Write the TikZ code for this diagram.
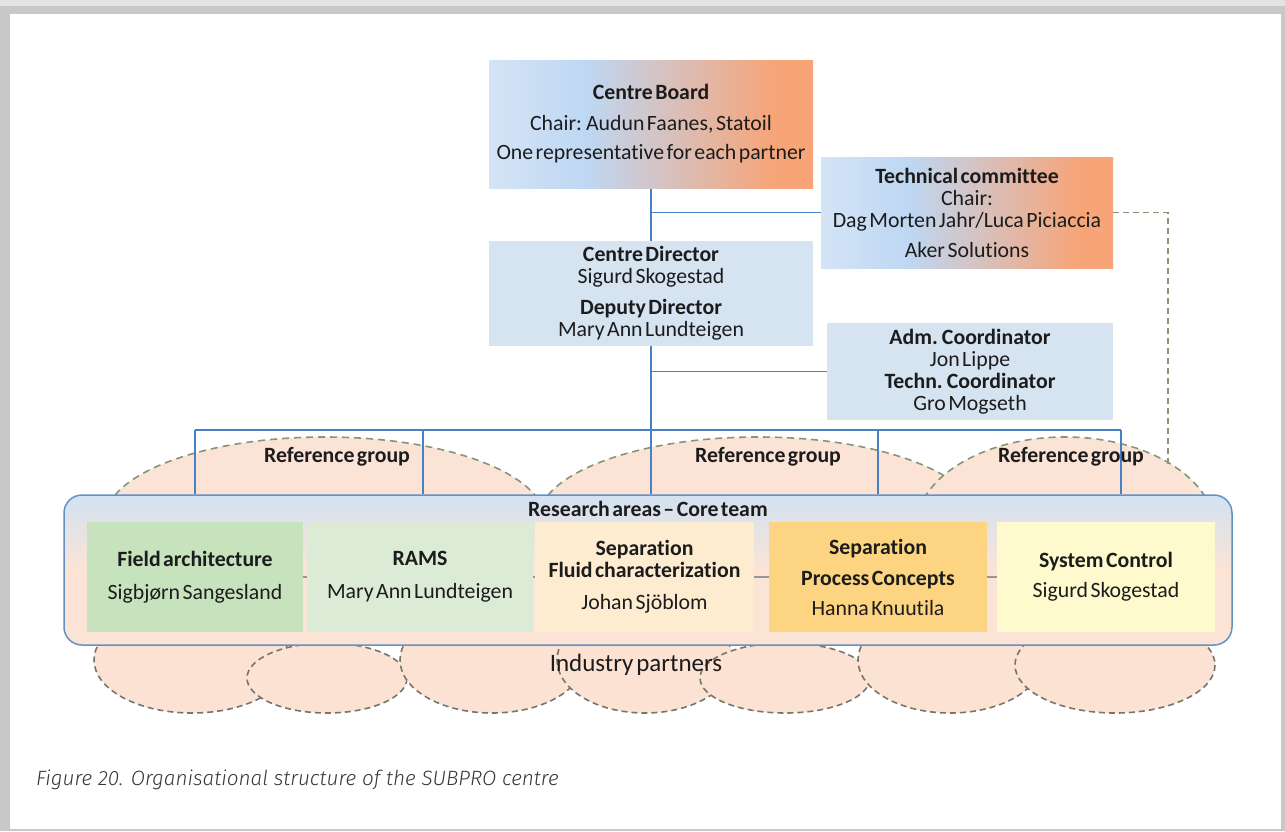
\documentclass[tikz,border=0pt]{standalone}
\usepackage{fontspec}
\setmainfont{Carlito}[WordSpace=0.5, Ligatures={NoCommon}]
\newfontfamily\capfont{Fira Sans}[UprightFont=* Light, ItalicFont=* Light Italic, BoldFont=* Light, BoldItalicFont=* Light Italic]
\usetikzlibrary{calc}
\definecolor{txt}{RGB}{28,28,28}
\definecolor{framegrey}{RGB}{200,200,200}
\definecolor{framelight}{RGB}{228,228,228}
\definecolor{cbA}{RGB}{212,228,246}
\definecolor{cbB}{RGB}{190,215,243}
\definecolor{cbD}{RGB}{247,164,120}
\definecolor{paleblue}{RGB}{214,227,241}
\definecolor{connblue}{RGB}{70,130,195}
\definecolor{rcborder}{RGB}{100,145,195}
\definecolor{rctop}{RGB}{210,226,242}
\definecolor{peach}{RGB}{251,228,214}
\definecolor{cloudfill}{RGB}{252,226,210}
\definecolor{refdash}{RGB}{135,148,120}
\definecolor{clouddash}{RGB}{118,118,108}
\definecolor{fieldgreen}{RGB}{198,227,190}
\definecolor{ramsgreen}{RGB}{220,235,213}
\definecolor{sepfluid}{RGB}{253,236,208}
\definecolor{sepproc}{RGB}{253,213,130}
\definecolor{syscontrol}{RGB}{254,250,206}
\definecolor{captiongrey}{RGB}{55,55,55}
\definecolor{tickgrey}{RGB}{150,150,150}
\pgfdeclarehorizontalshading{boardshade}{100bp}{color(0bp)=(cbA); color(25bp)=(cbA); color(40bp)=(cbB); color(69bp)=(cbD); color(100bp)=(cbD)}
\pgfdeclarelayer{shapes}
\pgfdeclarelayer{lines}
\pgfsetlayers{shapes,lines,main}
\newcommand\fsn{\fontsize{21.8}{22}\selectfont}
\newcommand\fsind{\fontsize{25}{26}\selectfont}
\newcommand\fscap{\capfont\fontsize{20.7}{22}\selectfont\itshape}
\begin{document}
\begin{tikzpicture}[x=1pt,y=-1pt,
  every node/.style={text=txt, inner sep=0pt, align=center, font=\fsn},
  gradbox/.style={rectangle, shade, shading=boardshade},
  blueBox/.style={rectangle, fill=paleblue},
  areabox/.style={rectangle, minimum height=110pt},
  conn/.style={draw=connblue, line width=1.5pt},
  barline/.style={draw=connblue, line width=2.2pt},
  dashconn/.style={draw=refdash, line width=1.6pt, dash pattern=on 6pt off 4pt},
  refell/.style={fill=peach, draw=refdash, line width=1.6pt, dash pattern=on 7pt off 5pt},
  cloudell/.style={fill=cloudfill, draw=clouddash, line width=1.6pt, dash pattern=on 6pt off 4pt},
  tickline/.style={draw=tickgrey, line width=1.2pt}
]
\useasboundingbox (0,0) rectangle (1285,831);

% ---------- boxes ----------
\node[gradbox, minimum width=324pt, minimum height=128pt] (cb) at (651,124)
  {\textbf{Centre Board}\\[9pt]Chair: Audun Faanes, Statoil\\[7pt]One representative for each partner};
\node[gradbox, minimum width=292pt, minimum height=111pt] (tc) at (967,212.5)
  {\textbf{Technical committee}\\Chair:\\Dag Morten Jahr/Luca Piciaccia\\[8pt]Aker Solutions};
\node[blueBox, minimum width=324pt, minimum height=105pt] (cd) at (651,293.5)
  {\textbf{Centre Director}\\Sigurd Skogestad\\[9pt]\textbf{Deputy Director}\\Mary Ann Lundteigen};
\node[blueBox, minimum width=286pt, minimum height=97pt] (adm) at (970,371.5)
  {\textbf{Adm. Coordinator}\\Jon Lippe\\\textbf{Techn. Coordinator}\\Gro Mogseth};

\node[rectangle, rounded corners=18pt, draw=rcborder, line width=1.5pt,
      top color=rctop, bottom color=peach, middle color=peach,
      minimum width=1168pt, minimum height=150pt] (rc) at (648,570) {};
\node (ra) at (648,509) {\textbf{Research areas \textendash\ Core team}};

\node[areabox, fill=fieldgreen, minimum width=216pt] (fa) at (195,577)
  {\textbf{Field architecture}\\[11pt]Sigbjørn Sangesland};
\node[areabox, fill=ramsgreen, minimum width=226pt] (rams) at (420,577)
  {\textbf{RAMS}\\[11pt]Mary Ann Lundteigen};
\node[areabox, fill=sepfluid, minimum width=219pt] (sf) at (644.5,577)
  {\textbf{Separation}\\\textbf{Fluid characterization}\\[10pt]Johan Sjöblom};
\node[areabox, fill=sepproc, minimum width=218pt] (sp) at (878,577)
  {\textbf{Separation}\\[9pt]\textbf{Process Concepts}\\[8pt]Hanna Knuutila};
\node[areabox, fill=syscontrol, minimum width=218pt] (sc) at (1106,577)
  {\textbf{System Control}\\[8pt]Sigurd Skogestad};

\node (rg1) at (337,457) {\textbf{Reference group}};
\node (rg2) at (768,457) {\textbf{Reference group}};
\node (rg3) at (1071,457) {\textbf{Reference group}};

\node[font=\fsind] (ip) at (636,665) {Industry partners};

\node[font=\fscap, text=captiongrey, anchor=base west] (cap) at (36,785)
  {Figure 20. Organisational structure of the SUBPRO centre};

% ---------- connector points ----------
\coordinate (b1) at (195,430);
\coordinate (b2) at (423,430);
\coordinate (b3) at (651,430);
\coordinate (b4) at (878,430);
\coordinate (b5) at (1121,430);
\coordinate (dd) at (1168,465);

% ---------- background shapes ----------
\begin{pgfonlayer}{shapes}
  \fill[framegrey] (0,0) rectangle (1285,831);
  \fill[framelight] (0,0) rectangle (1285,6);
  \fill[white] (10,14) rectangle (1281,829);
  % reference group ellipses
  \draw[refell] (325,520) ellipse [x radius=220, y radius=83];
  \draw[refell] (758,520) ellipse [x radius=220, y radius=83];
  \draw[refell] (1065,530) ellipse [x radius=150, y radius=93];
  % industry partner clouds
  \draw[cloudell] (192,660) ellipse [x radius=98, y radius=53];
  \draw[cloudell] (327,678) ellipse [x radius=80, y radius=35];
  \draw[cloudell] (492,660) ellipse [x radius=92, y radius=53];
  \draw[cloudell] (645,660) ellipse [x radius=88, y radius=53];
  \draw[cloudell] (785,678) ellipse [x radius=85, y radius=35];
  \draw[cloudell] (950,660) ellipse [x radius=92, y radius=53];
  \draw[cloudell] (1115,665) ellipse [x radius=100, y radius=48];
\end{pgfonlayer}

% ---------- connectors ----------
\begin{pgfonlayer}{lines}
  \draw[conn] (cb.south) -- (cd.north);
  \draw[conn] (cb.south |- tc.west) -- (tc.west);
  \draw[conn] (cd.south) -- (cd.south |- b3);
  \draw[conn] (cd.south |- adm.west) -- (adm.west);
  \draw[barline] (b1) -- (b5);
  \foreach \b in {b1,b2,b3,b4,b5} \draw[conn] (\b) -- (\b |- rc.north);
  \draw[dashconn] (tc.east) -- (tc.east -| dd) -- (dd);
\end{pgfonlayer}

% small ticks between research areas
\draw[tickline] (fa.east) -- (rams.west);
\draw[tickline] (rams.east) -- (sf.west);
\draw[tickline] (sf.east) -- (sp.west);
\draw[tickline] (sp.east) -- (sc.west);
\end{tikzpicture}
\end{document}
